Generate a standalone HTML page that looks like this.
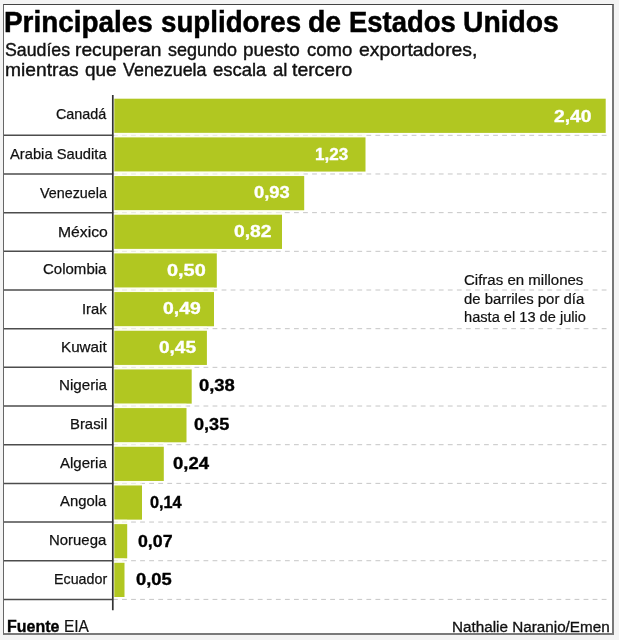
<!DOCTYPE html>
<html lang="es"><head><meta charset="utf-8"><title>Principales suplidores de Estados Unidos</title>
<style>
html,body{margin:0;padding:0;}
body{width:619px;height:640px;background:#f4f4f4;position:relative;overflow:hidden;font-family:"Liberation Sans",sans-serif;color:#111;}
#frame{position:absolute;left:3px;top:4px;width:608px;height:628px;background:#fff;border-left:1px solid #666;border-top:1px solid #444;border-right:2px solid #777;border-bottom:2px solid #7a7a7a;}
#clip{position:absolute;left:0;top:0;width:612px;height:633px;overflow:hidden;}
.t{position:absolute;white-space:nowrap;transform-origin:0 0;}
</style></head><body>
<div id="frame"></div>
<div id="clip">

<svg id="chart" width="619" height="640" viewBox="0 0 619 640" style="position:absolute;left:0;top:0">
<line x1="4" x2="113" y1="135.30" y2="135.30" stroke="#4c4c4c" stroke-width="1.5"/><line x1="113" x2="606.5" y1="135.30" y2="135.30" stroke="#c6c6c6" stroke-width="1" stroke-dasharray="4.8 4.25"/><rect x="114.3" y="98.70" width="491.4" height="34.2" fill="#b1c721"/>
<rect x="114.3" y="132.90" width="251.2" height="4.47" fill="#fcfde9" fill-opacity="0.6"/>
<line x1="4" x2="113" y1="173.98" y2="173.98" stroke="#4c4c4c" stroke-width="1.5"/><line x1="113" x2="606.5" y1="173.98" y2="173.98" stroke="#c6c6c6" stroke-width="1" stroke-dasharray="4.8 4.25"/><rect x="114.3" y="137.38" width="251.2" height="34.2" fill="#b1c721"/>
<rect x="114.3" y="171.57" width="189.9" height="4.47" fill="#fcfde9" fill-opacity="0.6"/>
<line x1="4" x2="113" y1="212.65" y2="212.65" stroke="#4c4c4c" stroke-width="1.5"/><line x1="113" x2="606.5" y1="212.65" y2="212.65" stroke="#c6c6c6" stroke-width="1" stroke-dasharray="4.8 4.25"/><rect x="114.3" y="176.05" width="189.9" height="34.2" fill="#b1c721"/>
<rect x="114.3" y="210.25" width="167.7" height="4.47" fill="#fcfde9" fill-opacity="0.6"/>
<line x1="4" x2="113" y1="251.32" y2="251.32" stroke="#4c4c4c" stroke-width="1.5"/><line x1="113" x2="606.5" y1="251.32" y2="251.32" stroke="#c6c6c6" stroke-width="1" stroke-dasharray="4.8 4.25"/><rect x="114.3" y="214.72" width="167.7" height="34.2" fill="#b1c721"/>
<rect x="114.3" y="248.93" width="102.5" height="4.47" fill="#fcfde9" fill-opacity="0.6"/>
<line x1="4" x2="113" y1="290.00" y2="290.00" stroke="#4c4c4c" stroke-width="1.5"/><line x1="113" x2="606.5" y1="290.00" y2="290.00" stroke="#c6c6c6" stroke-width="1" stroke-dasharray="4.8 4.25"/><rect x="114.3" y="253.40" width="102.5" height="34.2" fill="#b1c721"/>
<rect x="114.3" y="287.60" width="99.7" height="4.47" fill="#fcfde9" fill-opacity="0.6"/>
<line x1="4" x2="113" y1="328.68" y2="328.68" stroke="#4c4c4c" stroke-width="1.5"/><line x1="113" x2="606.5" y1="328.68" y2="328.68" stroke="#c6c6c6" stroke-width="1" stroke-dasharray="4.8 4.25"/><rect x="114.3" y="292.07" width="99.7" height="34.2" fill="#b1c721"/>
<rect x="114.3" y="326.27" width="92.6" height="4.47" fill="#fcfde9" fill-opacity="0.6"/>
<line x1="4" x2="113" y1="367.35" y2="367.35" stroke="#4c4c4c" stroke-width="1.5"/><line x1="113" x2="606.5" y1="367.35" y2="367.35" stroke="#c6c6c6" stroke-width="1" stroke-dasharray="4.8 4.25"/><rect x="114.3" y="330.75" width="92.6" height="34.2" fill="#b1c721"/>
<rect x="114.3" y="364.95" width="77.4" height="4.47" fill="#fcfde9" fill-opacity="0.6"/>
<line x1="4" x2="113" y1="406.02" y2="406.02" stroke="#4c4c4c" stroke-width="1.5"/><line x1="113" x2="606.5" y1="406.02" y2="406.02" stroke="#c6c6c6" stroke-width="1" stroke-dasharray="4.8 4.25"/><rect x="114.3" y="369.42" width="77.4" height="34.2" fill="#b1c721"/>
<rect x="114.3" y="403.62" width="72.2" height="4.47" fill="#fcfde9" fill-opacity="0.6"/>
<line x1="4" x2="113" y1="444.70" y2="444.70" stroke="#4c4c4c" stroke-width="1.5"/><line x1="113" x2="606.5" y1="444.70" y2="444.70" stroke="#c6c6c6" stroke-width="1" stroke-dasharray="4.8 4.25"/><rect x="114.3" y="408.10" width="72.2" height="34.2" fill="#b1c721"/>
<rect x="114.3" y="442.30" width="49.5" height="4.47" fill="#fcfde9" fill-opacity="0.6"/>
<line x1="4" x2="113" y1="483.38" y2="483.38" stroke="#4c4c4c" stroke-width="1.5"/><line x1="113" x2="606.5" y1="483.38" y2="483.38" stroke="#c6c6c6" stroke-width="1" stroke-dasharray="4.8 4.25"/><rect x="114.3" y="446.77" width="49.5" height="34.2" fill="#b1c721"/>
<rect x="114.3" y="480.97" width="27.7" height="4.47" fill="#fcfde9" fill-opacity="0.6"/>
<line x1="4" x2="113" y1="522.05" y2="522.05" stroke="#4c4c4c" stroke-width="1.5"/><line x1="113" x2="606.5" y1="522.05" y2="522.05" stroke="#c6c6c6" stroke-width="1" stroke-dasharray="4.8 4.25"/><rect x="114.3" y="485.45" width="27.7" height="34.2" fill="#b1c721"/>
<rect x="114.3" y="519.65" width="12.9" height="4.47" fill="#fcfde9" fill-opacity="0.6"/>
<line x1="4" x2="113" y1="560.72" y2="560.72" stroke="#4c4c4c" stroke-width="1.5"/><line x1="113" x2="606.5" y1="560.72" y2="560.72" stroke="#c6c6c6" stroke-width="1" stroke-dasharray="4.8 4.25"/><rect x="114.3" y="524.12" width="12.9" height="34.2" fill="#b1c721"/>
<rect x="114.3" y="558.33" width="10.2" height="4.47" fill="#fcfde9" fill-opacity="0.6"/>
<line x1="4" x2="113" y1="599.40" y2="599.40" stroke="#4c4c4c" stroke-width="1.5"/><line x1="113" x2="606.5" y1="599.40" y2="599.40" stroke="#c6c6c6" stroke-width="1" stroke-dasharray="4.8 4.25"/><rect x="114.3" y="562.80" width="10.2" height="34.2" fill="#b1c721"/>
<line x1="112.8" x2="112.8" y1="95" y2="610.3" stroke="#333" stroke-width="1.7"/>
</svg>
<div id="tt">
<div class="t" id="tt0" style="left:3.72px;top:4.00px;font-size:30px;line-height:36px;font-weight:bold;color:#000;transform:scaleX(0.9295);-webkit-text-stroke:0.5px #000;">Principales</div>
<div class="t" id="tt1" style="left:160.81px;top:4.00px;font-size:30px;line-height:36px;font-weight:bold;color:#000;transform:scaleX(0.9240);-webkit-text-stroke:0.5px #000;">suplidores</div>
<div class="t" id="tt2" style="left:308.40px;top:4.00px;font-size:30px;line-height:36px;font-weight:bold;color:#000;transform:scaleX(0.9474);-webkit-text-stroke:0.5px #000;">de</div>
<div class="t" id="tt3" style="left:348.90px;top:4.00px;font-size:30px;line-height:36px;font-weight:bold;color:#000;transform:scaleX(0.9140);-webkit-text-stroke:0.5px #000;">Estados</div>
<div class="t" id="tt4" style="left:462.89px;top:4.00px;font-size:30px;line-height:36px;font-weight:bold;color:#000;transform:scaleX(0.9424);-webkit-text-stroke:0.5px #000;">Unidos</div>
</div>
<div id="sa">
<div class="t" id="sa0" style="left:5.13px;top:39.00px;font-size:18.5px;line-height:22px;color:#111;transform:scaleX(0.9588);-webkit-text-stroke:0.4px #111;">Saudíes</div>
<div class="t" id="sa1" style="left:75.46px;top:39.00px;font-size:18.5px;line-height:22px;color:#111;transform:scaleX(1.0375);-webkit-text-stroke:0.4px #111;">recuperan</div>
<div class="t" id="sa2" style="left:168.26px;top:39.00px;font-size:18.5px;line-height:22px;color:#111;transform:scaleX(0.9708);-webkit-text-stroke:0.4px #111;">segundo</div>
<div class="t" id="sa3" style="left:243.13px;top:39.00px;font-size:18.5px;line-height:22px;color:#111;transform:scaleX(1.0204);-webkit-text-stroke:0.4px #111;">puesto</div>
<div class="t" id="sa4" style="left:306.50px;top:39.00px;font-size:18.5px;line-height:22px;color:#111;transform:scaleX(1.0011);-webkit-text-stroke:0.4px #111;">como</div>
<div class="t" id="sa5" style="left:358.57px;top:39.00px;font-size:18.5px;line-height:22px;color:#111;transform:scaleX(1.0468);-webkit-text-stroke:0.4px #111;">exportadores,</div>
</div>
<div id="sb">
<div class="t" id="sb0" style="left:4.81px;top:59.00px;font-size:18.5px;line-height:22px;color:#111;transform:scaleX(1.0388);-webkit-text-stroke:0.4px #111;">mientras</div>
<div class="t" id="sb1" style="left:84.64px;top:59.00px;font-size:18.5px;line-height:22px;color:#111;transform:scaleX(1.0218);-webkit-text-stroke:0.4px #111;">que</div>
<div class="t" id="sb2" style="left:122.50px;top:59.00px;font-size:18.5px;line-height:22px;color:#111;transform:scaleX(0.9665);-webkit-text-stroke:0.4px #111;">Venezuela</div>
<div class="t" id="sb3" style="left:213.15px;top:59.00px;font-size:18.5px;line-height:22px;color:#111;transform:scaleX(0.9981);-webkit-text-stroke:0.4px #111;">escala</div>
<div class="t" id="sb4" style="left:272.50px;top:59.00px;font-size:18.5px;line-height:22px;color:#111;transform:scaleX(1.0039);-webkit-text-stroke:0.4px #111;">al</div>
<div class="t" id="sb5" style="left:292.44px;top:59.00px;font-size:18.5px;line-height:22px;color:#111;transform:scaleX(1.0467);-webkit-text-stroke:0.4px #111;">tercero</div>
</div>
<div class="t" id="l0" style="left:56.28px;top:105.00px;font-size:15px;line-height:18px;color:#111;transform:scaleX(0.9577);-webkit-text-stroke:0.25px #111;">Canadá</div>
<div class="t" id="l1" style="left:10.20px;top:145.00px;font-size:15px;line-height:18px;color:#111;transform:scaleX(0.9817);-webkit-text-stroke:0.25px #111;">Arabia Saudita</div>
<div class="t" id="l2" style="left:39.65px;top:184.00px;font-size:15px;line-height:18px;color:#111;transform:scaleX(0.9552);-webkit-text-stroke:0.25px #111;">Venezuela</div>
<div class="t" id="l3" style="left:57.54px;top:223.00px;font-size:15px;line-height:18px;color:#111;transform:scaleX(1.0492);-webkit-text-stroke:0.25px #111;">México</div>
<div class="t" id="l4" style="left:43.25px;top:260.00px;font-size:15px;line-height:18px;color:#111;transform:scaleX(1.0008);-webkit-text-stroke:0.25px #111;">Colombia</div>
<div class="t" id="l5" style="left:82.07px;top:300.00px;font-size:15px;line-height:18px;color:#111;transform:scaleX(0.9853);-webkit-text-stroke:0.25px #111;">Irak</div>
<div class="t" id="l6" style="left:61.14px;top:338.00px;font-size:15px;line-height:18px;color:#111;transform:scaleX(1.0136);-webkit-text-stroke:0.25px #111;">Kuwait</div>
<div class="t" id="l7" style="left:58.59px;top:376.00px;font-size:15px;line-height:18px;color:#111;transform:scaleX(1.0108);-webkit-text-stroke:0.25px #111;">Nigeria</div>
<div class="t" id="l8" style="left:70.46px;top:415.00px;font-size:15px;line-height:18px;color:#111;transform:scaleX(0.9915);-webkit-text-stroke:0.25px #111;">Brasil</div>
<div class="t" id="l9" style="left:60.00px;top:454.00px;font-size:15px;line-height:18px;color:#111;transform:scaleX(1.0011);-webkit-text-stroke:0.25px #111;">Algeria</div>
<div class="t" id="l10" style="left:60.35px;top:492.00px;font-size:15px;line-height:18px;color:#111;transform:scaleX(0.9894);-webkit-text-stroke:0.25px #111;">Angola</div>
<div class="t" id="l11" style="left:49.46px;top:531.00px;font-size:15px;line-height:18px;color:#111;transform:scaleX(0.9947);-webkit-text-stroke:0.25px #111;">Noruega</div>
<div class="t" id="l12" style="left:53.70px;top:570.00px;font-size:15px;line-height:18px;color:#111;transform:scaleX(0.9516);-webkit-text-stroke:0.25px #111;">Ecuador</div>
<div class="t" id="v0" style="left:553.98px;top:106.00px;font-size:16.5px;line-height:20px;font-weight:bold;color:#fff;transform:scaleX(1.1672);-webkit-text-stroke:0.35px #fff;">2,40</div>
<div class="t" id="v1" style="left:315.21px;top:144.00px;font-size:16.5px;line-height:20px;font-weight:bold;color:#fff;transform:scaleX(1.0333);-webkit-text-stroke:0.35px #fff;">1,23</div>
<div class="t" id="v2" style="left:253.60px;top:182.00px;font-size:16.5px;line-height:20px;font-weight:bold;color:#fff;transform:scaleX(1.1115);-webkit-text-stroke:0.35px #fff;">0,93</div>
<div class="t" id="v3" style="left:234.27px;top:221.00px;font-size:16.5px;line-height:20px;font-weight:bold;color:#fff;transform:scaleX(1.1672);-webkit-text-stroke:0.35px #fff;">0,82</div>
<div class="t" id="v4" style="left:167.01px;top:260.00px;font-size:16.5px;line-height:20px;font-weight:bold;color:#fff;transform:scaleX(1.2066);-webkit-text-stroke:0.35px #fff;">0,50</div>
<div class="t" id="v5" style="left:163.19px;top:298.00px;font-size:16.5px;line-height:20px;font-weight:bold;color:#fff;transform:scaleX(1.1736);-webkit-text-stroke:0.35px #fff;">0,49</div>
<div class="t" id="v6" style="left:158.64px;top:337.00px;font-size:16.5px;line-height:20px;font-weight:bold;color:#fff;transform:scaleX(1.1512);-webkit-text-stroke:0.35px #fff;">0,45</div>
<div class="t" id="v7" style="left:198.80px;top:375.00px;font-size:16.5px;line-height:20px;font-weight:bold;color:#000;transform:scaleX(1.1168);-webkit-text-stroke:0.35px #000;">0,38</div>
<div class="t" id="v8" style="left:194.02px;top:414.00px;font-size:16.5px;line-height:20px;font-weight:bold;color:#000;transform:scaleX(1.0984);-webkit-text-stroke:0.35px #000;">0,35</div>
<div class="t" id="v9" style="left:172.65px;top:453.00px;font-size:16.5px;line-height:20px;font-weight:bold;color:#000;transform:scaleX(1.1213);-webkit-text-stroke:0.35px #000;">0,24</div>
<div class="t" id="v10" style="left:150.21px;top:492.00px;font-size:16.5px;line-height:20px;font-weight:bold;color:#000;transform:scaleX(0.9858);-webkit-text-stroke:0.35px #000;">0,14</div>
<div class="t" id="v11" style="left:138.02px;top:531.00px;font-size:16.5px;line-height:20px;font-weight:bold;color:#000;transform:scaleX(1.0752);-webkit-text-stroke:0.35px #000;">0,07</div>
<div class="t" id="v12" style="left:136.16px;top:569.00px;font-size:16.5px;line-height:20px;font-weight:bold;color:#000;transform:scaleX(1.1111);-webkit-text-stroke:0.35px #000;">0,05</div>
<div class="t" id="n0" style="left:463.96px;top:272.00px;font-size:14px;line-height:17px;color:#111;transform:scaleX(1.0730);-webkit-text-stroke:0.2px #111;">Cifras en millones</div>
<div class="t" id="n1" style="left:463.97px;top:291.00px;font-size:14px;line-height:17px;color:#111;transform:scaleX(1.0658);-webkit-text-stroke:0.2px #111;">de barriles por día</div>
<div class="t" id="n2" style="left:463.72px;top:309.00px;font-size:14px;line-height:17px;color:#111;transform:scaleX(1.0442);-webkit-text-stroke:0.2px #111;">hasta el 13 de julio</div>
<div class="t" id="srcb" style="left:6.50px;top:617.00px;font-size:16px;line-height:19px;font-weight:bold;color:#000;transform:scaleX(0.9980);-webkit-text-stroke:0.35px #000;">Fuente</div>
<div class="t" id="srce" style="left:63.64px;top:617.00px;font-size:16px;line-height:19px;color:#111;transform:scaleX(0.9673);-webkit-text-stroke:0.2px #111;">EIA</div>
<div class="t" id="cred" style="left:451.91px;top:619.00px;font-size:14px;line-height:17px;color:#111;transform:scaleX(1.0895);-webkit-text-stroke:0.3px #111;">Nathalie Naranjo/Emen</div>
</div>
</body></html>
